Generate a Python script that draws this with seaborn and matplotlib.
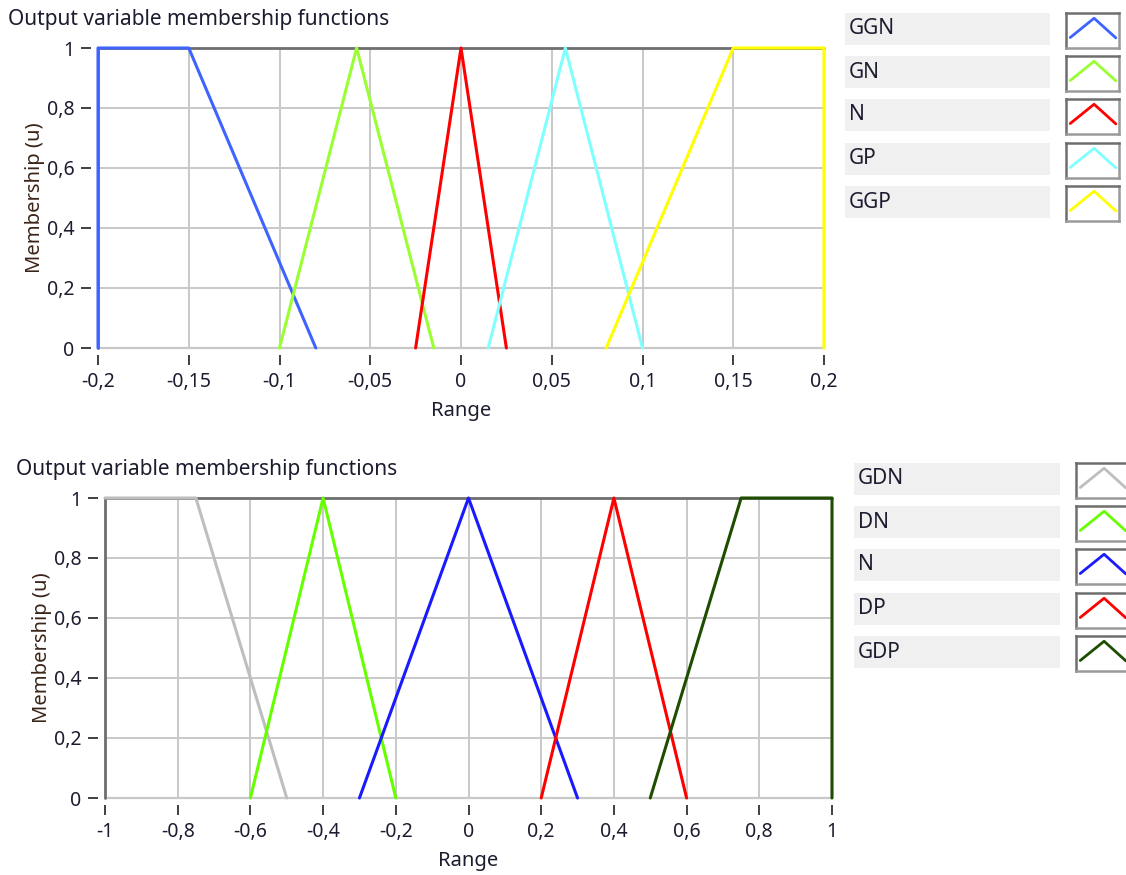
import numpy as np
import pandas as pd
import matplotlib
matplotlib.use("Agg")
import matplotlib.pyplot as plt
from matplotlib.patches import Rectangle
from matplotlib.ticker import FuncFormatter, FixedLocator
import seaborn as sns

# ---- membership functions: breakpoints (x) and membership at each (u) ----
top_names = ["GGN", "GN", "N", "GP", "GGP"]
top_x = [
    [-0.2, -0.2, -0.15, -0.08],
    [-0.1, -0.0575, -0.015],
    [-0.025, 0.0, 0.025],
    [0.015, 0.0575, 0.1],
    [0.08, 0.15, 0.2, 0.2],
]
top_u = [
    [0, 1, 1, 0],
    [0, 1, 0],
    [0, 1, 0],
    [0, 1, 0],
    [0, 1, 1, 0],
]
top_colors = ["#3F63FF", "#99FF33", "#FF0000", "#80FFFF", "#FFFF00"]
top_range = (-0.2, 0.2)
top_xticks = [-0.2, -0.15, -0.1, -0.05, 0.0, 0.05, 0.1, 0.15, 0.2]

bot_names = ["GDN", "DN", "N", "DP", "GDP"]
bot_x = [
    [-1.0, -0.75, -0.5],
    [-0.6, -0.4, -0.2],
    [-0.3, 0.0, 0.3],
    [0.2, 0.4, 0.6],
    [0.5, 0.75, 1.0, 1.0],
]
bot_u = [
    [1, 1, 0],
    [0, 1, 0],
    [0, 1, 0],
    [0, 1, 0],
    [0, 1, 1, 0],
]
bot_colors = ["#BEBEBE", "#66FF00", "#1A1AFF", "#FF0000", "#1E4D00"]
bot_range = (-1.0, 1.0)
bot_xticks = [-1.0, -0.8, -0.6, -0.4, -0.2, 0.0, 0.2, 0.4, 0.6, 0.8, 1.0]

yticks = [0, 0.2, 0.4, 0.6, 0.8, 1.0]
title_text = "Output variable membership functions"

sns.set_theme(style="white")
plt.rcParams["font.family"] = ["Noto Sans", "DejaVu Sans"]

W, H = 1126, 875
fig = plt.figure(figsize=(W / 100, H / 100), dpi=100)
fig.patch.set_facecolor("white")

TEXT = "#1C1C30"
GRID = "#C8C8C8"
FRAME_DARK = "#6E6E6E"


def comma_fmt(v, pos=None):
    s = f"{v:g}"
    if s == "-0":
        s = "0"
    return s.replace(".", ",")


def membership_frame(names, xs, us):
    rows = []
    for name, px, pu in zip(names, xs, us):
        for i, (x, u) in enumerate(zip(px, pu)):
            rows.append({"set": name, "x": x, "u": u, "step": i})
    return pd.DataFrame(rows)


def draw_panel(ax, names, xs, us, colors, xr, xticks):
    df = membership_frame(names, xs, us)
    # sunken plot-area frame (under the curves)
    ax.axhline(1, color=FRAME_DARK, lw=2.0, zorder=3, clip_on=False)
    ax.axvline(xr[0], color=FRAME_DARK, lw=2.0, zorder=3, clip_on=False)
    ax.axhline(0, color=GRID, lw=1.6, zorder=2, clip_on=False)
    ax.axvline(xr[1], color=GRID, lw=1.6, zorder=2, clip_on=False)
    n_frame = len(ax.lines)
    sns.lineplot(data=df, x="x", y="u", hue="set", hue_order=names,
                 palette=colors, units="set", estimator=None, sort=False,
                 legend=False, lw=2.2, ax=ax)
    for ln in ax.lines[n_frame:]:
        ln.set_clip_on(False)
        ln.set_zorder(4)
    ax.set_xlim(*xr)
    ax.set_ylim(0, 1)
    ax.xaxis.set_major_locator(FixedLocator(xticks))
    ax.yaxis.set_major_locator(FixedLocator(yticks))
    ax.xaxis.set_major_formatter(FuncFormatter(comma_fmt))
    ax.yaxis.set_major_formatter(FuncFormatter(comma_fmt))
    ax.grid(True, color=GRID, lw=1.4)
    ax.set_axisbelow(True)
    # ticks sit slightly away from the plot area
    for side in ("left", "bottom"):
        ax.spines[side].set_position(("outward", 5))
        ax.spines[side].set_visible(False)
    for side in ("top", "right"):
        ax.spines[side].set_visible(False)
    ax.tick_params(axis="both", direction="out", length=7, width=1.3,
                   color="#303030", labelsize=14, labelcolor=TEXT,
                   bottom=True, left=True, pad=5)
    ax.set_xlabel("Range", fontsize=14.5, color=TEXT, labelpad=7)
    ax.set_ylabel("Membership (u)", fontsize=14.5, color="#3A2418",
                  labelpad=1)


def draw_legend(names, colors, lab_x0, lab_x1, icon_x0, row_tops):
    for name, col, top in zip(names, colors, row_tops):
        fig.add_artist(Rectangle((lab_x0 / W, 1 - (top + 32) / H),
                                 (lab_x1 - lab_x0) / W, 32 / H,
                                 transform=fig.transFigure,
                                 facecolor="#F0F0F0", edgecolor="none"))
        fig.text((lab_x0 + 4) / W, 1 - (top + 16) / H, name,
                 fontsize=15, color=TEXT, ha="left", va="center")
        iax = fig.add_axes([icon_x0 / W, 1 - (top + 35) / H, 53 / W, 35 / H])
        iax.set_xlim(0, 1)
        iax.set_ylim(1, 0)
        iax.set_xticks([])
        iax.set_yticks([])
        iax.set_facecolor("white")
        for side, c in (("top", FRAME_DARK), ("left", FRAME_DARK),
                        ("bottom", "#9A9A9A"), ("right", "#9A9A9A")):
            iax.spines[side].set_color(c)
            iax.spines[side].set_linewidth(1.8)
        iax.plot([0.08, 0.53, 0.94], [0.70, 0.15, 0.71], color=col, lw=2.0)


ax1 = fig.add_axes([98 / W, 1 - 348 / H, 726 / W, 300 / H])
draw_panel(ax1, top_names, top_x, top_u, top_colors, top_range, top_xticks)
ax2 = fig.add_axes([105 / W, 1 - 798 / H, 727 / W, 300 / H])
draw_panel(ax2, bot_names, bot_x, bot_u, bot_colors, bot_range, bot_xticks)

fig.text(8 / W, 1 - 19 / H, title_text, fontsize=15, color=TEXT,
         ha="left", va="center")
fig.text(16 / W, 1 - 469 / H, title_text, fontsize=15, color=TEXT,
         ha="left", va="center")

draw_legend(top_names, top_colors, 845, 1050, 1066, [13, 56, 99, 143, 186])
draw_legend(bot_names, bot_colors, 854, 1060, 1076, [463, 506, 549, 593, 636])

fig.savefig("out.png", dpi=100, facecolor="white")
